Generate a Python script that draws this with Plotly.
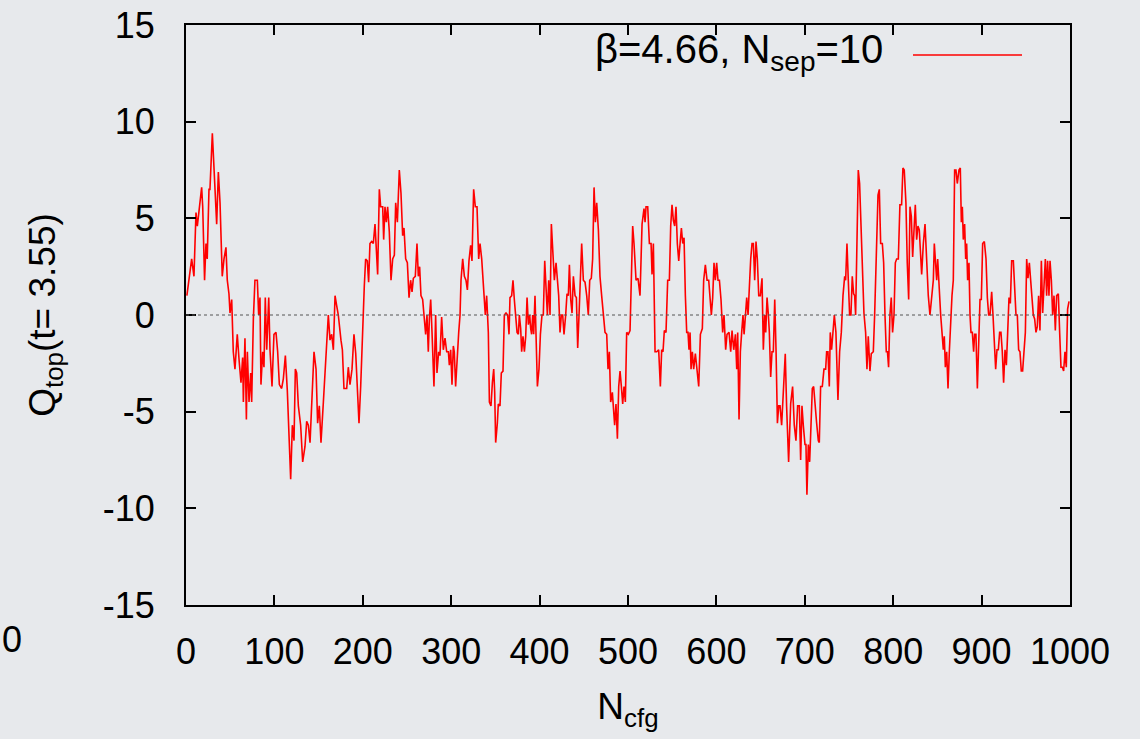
import plotly.graph_objects as go

# --- data (N_cfg, Q_top) ---
x_seg1 = [1, 3, 6.4, 9, 11.3, 12.8, 15, 17.7, 18.9, 21, 22.6, 24, 26, 27.1, 29.8, 31.7, 33.6, 34.7, 36.6, 38.5,
          41, 43, 45.2, 46.7, 48.6, 49.8, 51.7, 53.5, 55.4, 58, 60, 62.2, 64.1, 64.9, 66.7, 68.3, 69.4, 71.3, 73.2, 74.3,
          76.2, 78, 80.7, 82.2, 83.7, 84.8, 86.7, 88.2, 89.7, 91.3, 93.6, 95, 97.3, 99.5, 101.8, 103.7, 105.6, 108.2,
          110.1, 112.4, 114.6, 118.4, 120.3, 122.2, 123.7, 125.2, 127.1, 129.7, 132, 134.6, 136.5, 138.4, 140.3, 142.6,
          144.8, 147.1, 148.9, 150.8, 152.7, 155.4, 157.6, 159.1, 161, 162.9, 164.8, 166.7, 168.6, 170.4]
q_seg1 = [1.0, 1.7, 2.9, 2.0, 5.3, 4.6, 5.6, 6.6, 5.6, 1.8, 3.7, 2.9, 6.5, 6.5, 9.4, 7.5, 5.0, 4.7, 7.4, 5.8,
          2.0, 2.9, 3.5, 1.8, 1.1, 0.1, 0.8, -1.9, -2.8, -1.0, -2.3, -3.5, -2.2, -4.5, -1.2, -5.4, -1.9, -4.5, -3.0, -4.5,
          -0.2, 1.8, 1.8, 0, 0.9, -3.6, -1.9, -2.7, 0.9, -1.8, 0.9, -1.8, -3.7, -1.0, -0.9, -1.9, -3.6, -3.8,
          -3.3, -2.1, -3.9, -8.5, -5.7, -6.5, -2.8, -3.0, -4.7, -5.7, -7.6, -6.8, -5.5, -5.7, -6.6, -4.2,
          -1.9, -2.8, -5.6, -4.7, -6.6, -4.5, -2.7, -1.9, 0, -1.3, -1.0, -1.8, 1.0, 0.5]

x_seg2 = [172.3, 175.3, 176.9, 178.7, 181.8, 183.6, 185.5, 187.8, 190, 192, 193.8, 195.7, 197.6, 199.5, 200.6,
          201.7, 203.2, 205.1, 206.6, 208.1, 210, 211.9, 213.8, 215.7, 216.8, 218.7, 220.2, 222.5, 223.6, 225.1,
          226.6, 228.1, 230, 231.9, 233.8, 235.7, 237.2, 239.1, 241.3, 243.2, 245.1, 246.6, 248.5, 250.4, 252.3,
          254.1, 255.7, 257.2, 259.4, 261.3, 262.8, 264.3, 265.8, 267.7, 269.6, 271.1, 272.6, 274.1, 275.3, 276.8,
          278.3, 280.5, 282.4, 283.9, 285.8, 287.3, 289.2, 291.1, 293, 294.9, 296.8, 297.9, 299.4, 300.9, 302.4,
          303.5, 305, 307, 308.5, 310, 311.1, 313, 314.9, 316.7, 318.3, 320.1, 322, 323.5, 325.4, 327.3, 329.2, 331.1]
q_seg2 = [0, -1.3, -1.8, -3.8, -3.8, -2.7, -3.6, -2.8, -1.0, -2.0, -3.7, -5.6, -3.7, -0.9, 0,
          1.5, 2.9, 2.8, 1.7, 3.7, 3.8, 3.7, 4.7, 2.9, 2.1, 6.5, 5.6, 5.6, 3.9, 5.6,
          4.8, 5.6, 4.3, 1.8, 2.9, 3.1, 5.8, 4.8, 7.5, 6.3, 4.1, 4.5, 2.9, 2.7, 0.9,
          1.8, 1.2, 1.9, 2.0, 3.7, 2.0, 2.5, 1.0, 0.8, -0.2, -1.0, 0, -1.9, -0.2, 0.8,
          -0.9, -3.7, 0, -3.0, -1.9, -2.1, -0.1, -1.8, -1.2, -1.9, -1.9, -2.6, -1.8, -3.6, -1.6,
          -1.9, -3.7, -1.9, -0.9, 0, 1.8, 2.9, 2.0, 1.8, 1.3, 2.8, 3.6, 2.8, 6.5, 5.6, 5.6, 2.9]

x_seg3 = [332.6, 334.5, 337.1, 338.6, 340.1, 342, 343.2, 345, 346.6, 348.1, 349.2, 350.3, 352.2, 353.3, 355.2,
          356.7, 358.6, 360.1, 362, 363.9, 365.4, 366.5, 368.4, 369.9, 371.4, 372.9, 374.5, 376, 377.1, 378.6,
          379.7, 381.2, 382.8, 384.3, 385.8, 387.3, 388.8, 389.9, 391, 392.2, 393.3, 394.8, 396, 397.5, 399.3,
          400.9, 402.7, 404.2, 405.8, 407.3, 408.8, 410.3, 411.8, 413.3, 415.2, 416.7, 418.6, 420.1, 421.6, 423.1,
          424.6, 426.1, 427.6, 429.5, 431, 432.5, 433.7, 435.2, 436.7, 438.2, 440.1, 441.6, 443.1, 444.6, 445.7,
          447.6, 449.5, 451.4, 453.3, 455.1, 456.7, 458.5, 460, 461.6, 463.1, 464.6, 466.5, 468.3, 470.2, 472.1,
          474, 475.9, 477.4, 478.9, 480.4, 482.3, 483.4, 484.9, 486.4, 488, 489.5, 491, 492.5, 494, 495.5,
          497, 498.5, 500.4]
q_seg3 = [3.7, 2.9, 1.0, 0, 1.0, -0.9, -4.5, -4.7, -3.5, -2.8, -4.0, -6.6, -5.6, -4.6, -4.7,
          -3.0, -2.9, 0, 0.1, 0, -1.0, 0.9, 1.0, 1.8, 0.8, 0, -0.9, -1.0, 0, -0.7,
          -1.9, -1.1, -1.9, -1.1, 0.9, -0.5, 0, -0.7, -1.0, 0, -1.0, 1.0, -1.3, -3.7, -2.8,
          -1.0, 0, 0, 2.8, 1.0, 0, 1.8, 0, 4.7, 2.9, 1.8, 2.7, 1.8, 1.0, -0.9,
          0, 0, -1.0, 0, 1.1, 1.0, 2.6, 0.8, 0.1, 2.0, 1.0, 0.9, -1.7, 0, 1.3,
          3.7, 1.8, 1.7, 1.0, 0, 1.8, 1.9, 2.9, 6.6, 4.8, 5.8, 4.4, 2.0, 1.0, 0.1,
          -0.9, -1.0, -2.8, -1.9, -4.5, -4.0, -4.6, -5.7, -4.6, -6.4, -3.7, -2.9, -3.7, -4.6, -3.7,
          -4.5, -0.9, -1.0]

x_seg4 = [502.3, 505.3, 506.8, 509.1, 511.3, 513.6, 515.9, 518.1, 519.3, 520.4, 522.3, 524.2, 526.1, 527.2, 528.7,
          530.6, 532.5, 534.7, 536.6, 538.1, 539.6, 541.1, 543, 544.9, 546.8, 548.3, 549.8, 551.3, 552.8, 554.3,
          555.8, 557.4, 558.9, 560.4, 561.9, 563.4, 564.9, 566.4, 567.9, 569, 570.2, 571.3, 572.8, 574.3, 576.2,
          578.1, 580, 581.9, 584.1, 585.6, 587.5, 589.4, 591.3, 592.8, 594.3, 595.8, 597.3, 598.8, 600.3, 601.8,
          603.4, 605.2, 607.1, 608.6, 610.5, 612, 614.3, 616.2, 617.7, 619.6, 621.5, 623, 624.1, 625.6, 627.1,
          628.6, 630.1, 631.3, 632.8, 634.3, 635.8, 637.3, 638.8, 640.3, 641.8, 643.3, 644.8, 646.3, 647.9, 649.7,
          651.6, 653.1, 654.6, 655.8, 657.3, 658.8, 659.9, 661.4, 662.9, 664.4, 666, 667.5, 669, 670.5]
q_seg4 = [-0.8, 4.6, 3.7, 1.8, 1.9, 1.0, 4.7, 5.5, 4.8, 5.6, 5.6, 3.7, 3.7, 2.1, 3.7,
          -1.9, -1.9, -1.8, -3.7, -1.8, -1.9, -0.8, -0.9, 1.8, 1.8, 4.6, 5.7, 4.9, 4.6, 5.6,
          3.7, 2.8, 3.7, 4.5, 3.7, 4.0, 1.0, -0.9, -0.9, -1.8, -0.9, -2.8, -1.9, -2.8, -2.0,
          -2.8, -3.7, -1.0, -0.7, 1.8, 2.6, 1.8, 1.8, 0.9, 0, 0.9, 2.7, 1.8, 2.7, 1.8,
          1.8, 0.8, -0.9, 0, -1.8, -1.0, -0.9, -1.9, -0.8, -1.8, -1.0, -2.8, -0.9, -5.4, -1.9,
          -0.9, 0, -1.0, 0, 0.9, 0, 1.8, 2.9, 3.7, 3.7, 1.8, 3.8, 2.9, 1.0, 1.0,
          1.9, -1.8, 0, -0.9, 0.9, 0, -0.9, -3.2, -1.9, -1.9, 0.8, -1.9, -5.6, -4.7]

x_seg5 = [672, 673.8, 675.7, 677.9, 679.4, 681.7, 684, 686.2, 688.1, 690, 691.9, 693.8, 695.3, 696.8, 698.3,
          700.2, 701.3, 702.4, 704, 705.5, 707, 708.5, 710, 711.5, 713.4, 715.3, 716.4, 717.9, 719.8, 721.7,
          723.6, 724.7, 726.2, 727.7, 728.8, 730.3, 731.5, 733.4, 735.2, 737.5, 739.4, 741.3, 743.2, 745.1, 746.2,
          747.7, 749.2, 750.7, 752.2, 753.7, 755.2, 756.4, 757.5, 759, 760.5, 762, 763.5, 765, 766.9, 768.8,
          770.3, 771.8, 773.7, 775.2, 777.5, 779, 780.9, 782.8, 784.3, 785.8, 787.7, 789.2, 790.7, 792.2, 793.5,
          794.8, 796.3, 797.8, 799.3, 800.9, 802.4, 803.9, 805.8, 807.6, 809.5, 811, 812.5, 814.4, 815.9, 817.5,
          819, 820.5, 822, 823.5, 825, 826.5, 828, 829.5]
q_seg5 = [-4.7, -5.7, -3.9, -2.0, -4.7, -7.6, -4.6, -3.7, -5.7, -6.5, -4.7, -4.7, -7.5, -4.7, -5.7,
          -6.7, -6.7, -9.3, -6.7, -7.6, -5.7, -3.8, -3.7, -4.7, -5.6, -6.5, -6.6, -3.7, -3.7, -2.8,
          -2.8, -1.9, -1.9, -3.7, -0.9, -1.8, -0.9, 0, -0.9, -4.4, -1.9, -0.9, 1.0, 2.0, 1.8,
          3.7, 1.8, 0, 0, 2.0, 1.1, 1.0, 0, 3.7, 7.5, 6.8, 4.6, 1.8, 0.1, -0.9,
          -2.8, -1.1, -2.9, -2.0, -1.9, 0, 3.9, 6.2, 6.5, 3.7, 3.7, 2.7, 0, -1.9, -1.9,
          -2.7, 0, 0.9, -0.9, 0, 2.7, 2.9, 2.9, 5.7, 5.7, 7.6, 7.5, 5.8, 2.7, 0.8,
          5.6, 5.1, 3.0, 4.3, 5.7, 3.9, 4.6, 4.4]

x_seg6 = [832.2, 834.1, 836, 837.8, 839.7, 841.6, 843.5, 845.4, 846.5, 848, 849.2, 850.3, 852.2, 853.7, 855.2,
          856.7, 857.8, 859, 860.5, 862, 863.5, 865, 866.5, 868, 869.5, 871, 872.5, 874.4, 875.9, 877.1,
          878.2, 879.3, 880.8, 882, 883.1, 884.2, 885.7, 886.9, 888, 889.5, 891, 892.1, 893.6, 895.2, 896.7,
          898.2, 899.7, 901.2, 903.1, 905, 906.5, 908, 909.5, 911.4, 912.9, 914.4, 915.9, 917.4, 918.9, 920.4,
          921.9, 923.4, 924.9, 926.5, 928, 929.5, 931, 932.5, 934, 935.9, 937.4, 938.9, 940.4, 941.9, 943.4,
          944.9, 946.4, 947.9, 949.5, 951, 952.5, 954, 955.5, 957, 958.5, 960, 961.5, 963, 964.5, 966,
          967.6, 969.1, 970.6, 972.1, 973.6, 974.7, 976.2, 977.4, 978.9, 980.4, 981.9, 983.4, 984.9, 986.8, 988.3,
          989.8, 991.3, 992.8, 994.3, 995.8, 997.3, 998.9]
q_seg6 = [2.1, 3.7, 4.7, 2.9, 1.0, 0, 0.9, 1.8, 3.7, 2.8, 1.8, 2.9, 1.0, 0, -0.9,
          -1.8, -1.1, -2.7, -1.9, -3.8, -1.9, 0, 1.0, 1.8, 7.5, 7.5, 6.8, 7.5, 7.6, 4.8,
          5.6, 3.9, 4.7, 2.9, 3.7, 1.8, 2.7, 0, -0.9, -0.9, -1.9, -1.0, -1.0, -3.8, -0.9,
          0.8, 0.8, 3.7, 3.8, 2.9, 0.9, 0, 0, 1.2, 0, -1.9, -2.8, -1.8, -1.8, -0.9,
          -0.9, -1.9, -3.5, -1.8, -2.6, -0.9, 0.9, 0.6, 2.8, 2.8, 0.9, 0, 0, -1.8, -1.9,
          -2.9, -2.9, -1.8, -0.9, 2.9, 1.9, 2.7, 1.8, 0.9, 0, -0.2, -0.9, -0.6, 1.0, -0.8,
          2.8, 0.1, 1.8, 2.9, 1.0, 2.8, 1.0, 2.8, 1.8, 0, 1.0, -0.8, 1.0, 1.1, -0.9,
          -2.7, -2.7, -2.9, -1.9, -2.7, 0.3, 0.7]

n_cfg = x_seg1 + x_seg2 + x_seg3 + x_seg4 + x_seg5 + x_seg6
q_top = q_seg1 + q_seg2 + q_seg3 + q_seg4 + q_seg5 + q_seg6

x_ticks = list(range(0, 1001, 100))
y_ticks = [-15, -10, -5, 0, 5, 10, 15]

legend_label = "β=4.66, N<sub>sep</sub>=10"
x_title = "N<sub>cfg</sub>"
y_title = "Q<sub>top</sub>(t= 3.55)"

FONT = "Liberation Sans, Arial, Helvetica, sans-serif"
BG = "#e7e9ec"

fig = go.Figure()
fig.add_trace(go.Scatter(x=n_cfg, y=q_top, mode="lines",
                         line=dict(color="#ff0000", width=1.6),
                         name="β=4.66, N_sep=10", showlegend=False))

axis_common = dict(showline=True, linecolor="black", linewidth=2, mirror="ticks",
                   ticks="inside", ticklen=10, tickwidth=2, tickcolor="black",
                   showgrid=False, zeroline=False,
                   tickfont=dict(family=FONT, size=36, color="black"))

fig.update_xaxes(range=[0, 1000], tickvals=x_ticks, ticktext=[str(v) for v in x_ticks],
                 title=dict(text=x_title, font=dict(family=FONT, size=37, color="black"), standoff=22),
                 ticklabelstandoff=14, **axis_common)
fig.update_yaxes(range=[-15, 15], tickvals=y_ticks, ticktext=[str(v) for v in y_ticks],
                 title=dict(text=y_title, font=dict(family=FONT, size=37, color="black"), standoff=36),
                 ticklabelstandoff=22, **axis_common)

# dotted zero reference line
fig.add_shape(type="line", xref="paper", yref="y", x0=0, x1=1, y0=0, y1=0,
              line=dict(color="#555555", width=1, dash="dot"))

# gnuplot-style key: text then sample line
fig.add_annotation(xref="paper", yref="paper", x=0.7907, y=0.9534, xanchor="right", yanchor="middle",
                   text=legend_label, showarrow=False,
                   font=dict(family=FONT, size=40, color="black"))
fig.add_shape(type="line", xref="paper", yref="paper", x0=0.8224, x1=0.9457, y0=0.9483, y1=0.9483,
              line=dict(color="#ff0000", width=1.6))

# stray label from the neighbouring slide panel
fig.add_annotation(xref="paper", yref="paper", x=-0.2104, y=-0.0603, xanchor="left", yanchor="middle",
                   text="0", showarrow=False, font=dict(family=FONT, size=36, color="black"))

fig.update_layout(width=1140, height=739, margin=dict(l=186, r=70, t=25, b=134, autoexpand=False),
                  paper_bgcolor=BG, plot_bgcolor=BG, font=dict(family=FONT, color="black"),
                  showlegend=False)

fig.write_html("out.html")
